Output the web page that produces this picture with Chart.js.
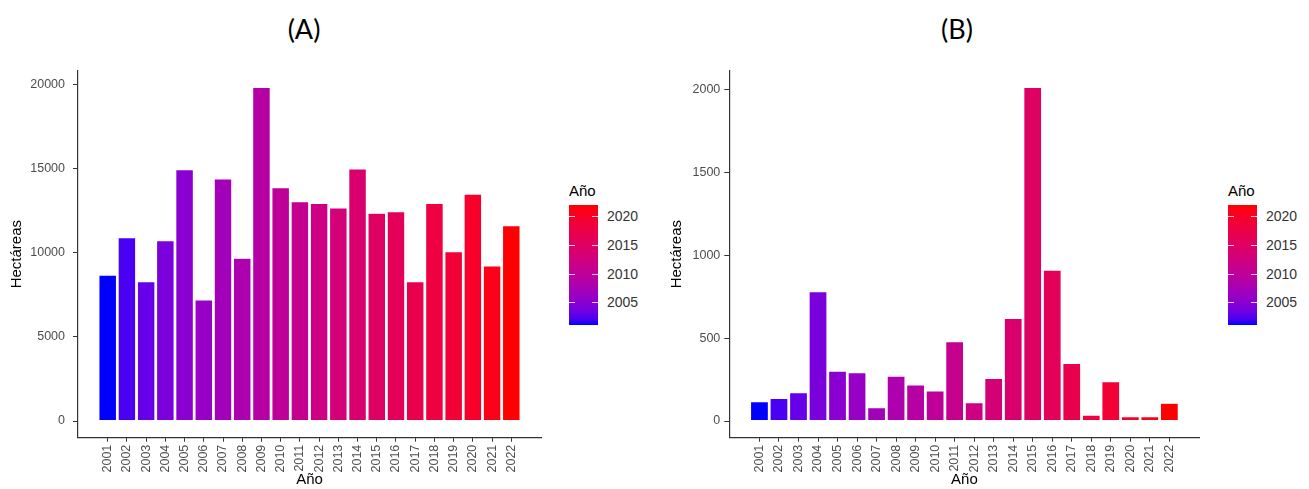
<!DOCTYPE html>
<html lang="es">
<head>
<meta charset="utf-8">
<title>Hectáreas por año</title>
<script src="https://cdn.jsdelivr.net/npm/chart.js@4.4.1/dist/chart.umd.min.js"></script>
<style>
  html, body { margin: 0; padding: 0; background: #fff; }
  body { width: 1309px; height: 489px; position: relative; overflow: hidden; font-family: "Liberation Sans", Arial, sans-serif; }
  canvas { position: absolute; top: 0; }
  .panel-title { position: absolute; top: 12px; font-family: Lato, "Open Sans", sans-serif; font-size: 27px; color: #000; transform: translateX(-50%); }
  .legend { position: absolute; top: 182px; width: 90px; height: 150px; }
  .legend .lg-title { position: absolute; left: 0; top: 0; font-size: 15px; color: #000; }
  .legend .bar { position: absolute; left: 0; top: 23px; width: 29px; height: 120px; }
  .legend .tick { position: absolute; height: 1px; width: 6px; background: rgba(255,255,255,0.8); }
  .legend .lab { position: absolute; left: 38px; font-size: 14px; color: #333; transform: translateY(-50%); }
</style>
</head>
<body>
<div class="panel-title" style="left:304px">(A)</div>
<div class="panel-title" style="left:957px">(B)</div>
<canvas id="chartA" width="548" height="489" style="left:0px"></canvas>
<canvas id="chartB" width="545" height="489" style="left:660px"></canvas>
<div class="legend" id="legendA" style="left:569px"></div>
<div class="legend" id="legendB" style="left:1228px"></div>

<script>
// Data
const years = [2001, 2002, 2003, 2004, 2005, 2006, 2007, 2008, 2009, 2010, 2011,
  2012, 2013, 2014, 2015, 2016, 2017, 2018, 2019, 2020, 2021, 2022];
const hectareasA = [8670, 10890, 8280, 10710, 14930, 7190, 14380, 9670, 19820, 13860, 13030,
  12930, 12650, 14970, 12340, 12440, 8280, 12930, 10060, 13480, 9210, 11600];
const hectareasB = [116, 137, 171, 780, 301, 291, 80, 271, 217, 181, 478,
  110, 257, 619, 2012, 910, 348, 36, 237, 26, 26, 107];
const yTicksA = [0, 5000, 10000, 15000, 20000];
const yTicksB = [0, 500, 1000, 1500, 2000];
const legendTicks = [2005, 2010, 2015, 2020];

// Colour ramp blue -> red, interpolated in CIELAB (like ggplot's gradient)
function toLin(c) { c /= 255; return c <= 0.04045 ? c / 12.92 : Math.pow((c + 0.055) / 1.055, 2.4); }
function fromLin(c) {
  const v = c <= 0.0031308 ? 12.92 * c : 1.055 * Math.pow(c, 1 / 2.4) - 0.055;
  return Math.round(Math.max(0, Math.min(1, v)) * 255);
}
function rgbToLab([r, g, b]) {
  r = toLin(r); g = toLin(g); b = toLin(b);
  const x = (0.4124564 * r + 0.3575761 * g + 0.1804375 * b) / 0.95047;
  const y = 0.2126729 * r + 0.7151522 * g + 0.0721750 * b;
  const z = (0.0193339 * r + 0.1191920 * g + 0.9503041 * b) / 1.08883;
  const f = t => t > 0.008856 ? Math.cbrt(t) : 7.787 * t + 16 / 116;
  const fx = f(x), fy = f(y), fz = f(z);
  return [116 * fy - 16, 500 * (fx - fy), 200 * (fy - fz)];
}
function labToRgb([L, a, b]) {
  const fy = (L + 16) / 116, fx = fy + a / 500, fz = fy - b / 200;
  const inv = t => t * t * t > 0.008856 ? t * t * t : (t - 16 / 116) / 7.787;
  const x = inv(fx) * 0.95047, y = inv(fy), z = inv(fz) * 1.08883;
  const r = 3.2404542 * x - 1.5371385 * y - 0.4985314 * z;
  const g = -0.9692660 * x + 1.8760108 * y + 0.0415560 * z;
  const bl = 0.0556434 * x - 0.2040259 * y + 1.0572252 * z;
  return `rgb(${fromLin(r)}, ${fromLin(g)}, ${fromLin(bl)})`;
}
const labLow = rgbToLab([0, 0, 255]);
const labHigh = rgbToLab([255, 0, 0]);
function yearColor(year) {
  const t = (year - years[0]) / (years[years.length - 1] - years[0]);
  return labToRgb(labLow.map((v, i) => v + (labHigh[i] - v) * t));
}

const axisColor = '#333333';
const tickColor = '#4d4d4d';

// ggplot-like 5% expansion on both axes
function makeChart(canvasId, values, yTicks, yWidth, labelPad, padRight) {
  const maxVal = Math.max(...values);
  const xMinData = years[0] - 0.45, xMaxData = years[years.length - 1] + 0.45;
  const xExp = (xMaxData - xMinData) * 0.05;
  const yExp = maxVal * 0.05;

  return new Chart(document.getElementById(canvasId), {
    type: 'bar',
    data: {
      datasets: [{
        data: years.map((y, i) => ({ x: y, y: values[i] })),
        backgroundColor: years.map(yearColor),
        borderColor: 'rgba(255,255,255,0.5)',
        borderWidth: 0.6,
        borderSkipped: false,
        barPercentage: 0.92,
        categoryPercentage: 1.0
      }]
    },
    options: {
      responsive: false,
      animation: false,
      layout: { padding: { left: 0, top: 70.6, right: padRight, bottom: 0 } },
      plugins: { legend: { display: false }, tooltip: { enabled: false } },
      scales: {
        x: {
          type: 'linear',
          offset: false,
          min: xMinData - xExp,
          max: xMaxData + xExp,
          afterBuildTicks: (scale) => { scale.ticks = years.map(v => ({ value: v })); },
          afterFit: (scale) => { scale.height = 51.3; },
          grid: { display: true, offset: false, drawOnChartArea: false, drawTicks: true, tickLength: 4, color: axisColor, lineWidth: 1 },
          border: { display: true, color: axisColor, width: 1.2 },
          ticks: {
            autoSkip: false, minRotation: 90, maxRotation: 90, padding: 3,
            color: tickColor, font: { family: 'Liberation Sans', size: 12.5 },
            callback: (v) => String(v)
          },
          title: {
            display: true, text: 'Año', color: '#000',
            font: { family: 'Liberation Sans', size: 15 }, padding: { top: 0, bottom: 0 }
          }
        },
        y: {
          type: 'linear',
          min: -yExp,
          max: maxVal + yExp,
          afterBuildTicks: (scale) => { scale.ticks = yTicks.map(v => ({ value: v })); },
          afterFit: (scale) => { scale.width = yWidth; },
          grid: { display: true, drawOnChartArea: false, drawTicks: true, tickLength: 5, color: axisColor, lineWidth: 1 },
          border: { display: true, color: axisColor, width: 1.2 },
          ticks: {
            autoSkip: false, padding: labelPad,
            color: tickColor, font: { family: 'Liberation Sans', size: 12.5 },
            callback: (v) => String(v)
          },
          title: {
            display: true, text: 'Hectáreas', color: '#000',
            font: { family: 'Liberation Sans', size: 15 }, padding: { top: 8, bottom: 0 }
          }
        }
      }
    }
  });
}

makeChart('chartA', hectareasA, yTicksA, 78, 8, 7);
makeChart('chartB', hectareasB, yTicksB, 69.3, 4, 5.5);

// Colour bar legends
function buildLegend(id) {
  const box = document.getElementById(id);
  const first = years[0], last = years[years.length - 1];
  const stops = [];
  for (let i = 0; i <= 20; i++) {
    const yr = last - (last - first) * i / 20;
    stops.push(`${yearColor(yr)} ${i * 5}%`);
  }
  box.innerHTML = `<div class="lg-title">Año</div><div class="bar" style="background:linear-gradient(to bottom, ${stops.join(', ')})"></div>`;
  legendTicks.forEach(t => {
    const top = 23 + (last - t) / (last - first) * 120;
    box.insertAdjacentHTML('beforeend',
      `<div class="tick" style="left:0;top:${top}px"></div>` +
      `<div class="tick" style="left:23px;top:${top}px"></div>` +
      `<div class="lab" style="top:${top}px">${t}</div>`);
  });
}
buildLegend('legendA');
buildLegend('legendB');
</script>
</body>
</html>
